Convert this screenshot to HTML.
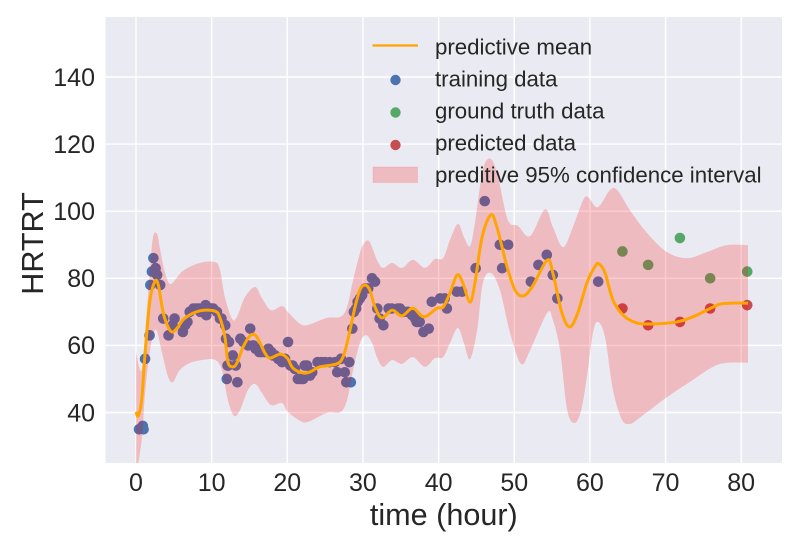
<!DOCTYPE html>
<html>
<head>
<meta charset="utf-8">
<style>
html,body{margin:0;padding:0;background:#fff;}
svg{display:block;}
text{font-family:"Liberation Sans",sans-serif;fill:#262626;}
</style>
</head>
<body>
<svg id="chart" xmlns="http://www.w3.org/2000/svg" width="800" height="550" viewBox="0 0 800 550">
  <defs><clipPath id="plot-clip"><rect x="105.5" y="17" width="676.5" height="446"/></clipPath></defs>
  <rect x="105.5" y="17" width="676.5" height="446" fill="#EAEAF2"/>
  <g id="grid"></g>
  <g id="dots" clip-path="url(#plot-clip)"></g>
  <g id="series" clip-path="url(#plot-clip)"></g>
  <g id="xticks"></g>
  <g id="yticks"></g>
  <text x="443.8" y="525" font-size="30.6" text-anchor="middle">time (hour)</text>
  <text transform="translate(43,243.5) rotate(-90)" font-size="30.6" text-anchor="middle">HRTRT</text>
  <g>
    <line x1="372.5" y1="45.5" x2="418" y2="45.5" stroke="#FFA500" stroke-width="2.3"/>
    <text x="435" y="54.5" font-size="22.25">predictive mean</text>
    <circle cx="395.5" cy="80" r="5.2" fill="#4C72B0"/>
    <text x="435" y="86.5" font-size="22.25">training data</text>
    <circle cx="395.5" cy="112.5" r="5.2" fill="#55A868"/>
    <text x="435" y="118.5" font-size="22.25">ground truth data</text>
    <circle cx="395.5" cy="145" r="5.2" fill="#C44E52"/>
    <text x="435" y="150.5" font-size="22.25">predicted data</text>
    <rect x="373" y="167" width="44.5" height="15.5" fill="rgba(255,0,0,0.2)" stroke="rgba(255,0,0,0.1)" stroke-width="1"/>
    <text x="435" y="182.5" font-size="22.25">preditive 95% confidence interval</text>
  </g>
</svg>
<script>
const xTickValues = [0,10,20,30,40,50,60,70,80];
const yTickValues = [40,60,80,100,120,140];

const trainTime = [0.4,0.9,1.0,1.2,1.8,1.9,2.1,2.3,2.6,2.8,3.2,3.6,4.3,4.85,5.1,6.2,6.5,6.8,7.1,7.6,8,8.3,8.5,9.2,9.3,9.7,10,10.2,10.7,11.1,11.3,11.8,11.9,12.0,12.1,12.2,12.3,12.8,13.2,13.4,13.8,14.2,14.8,15.1,15.5,15.8,16,16.3,16.6,17,17.5,17.9,18.1,18.4,18.8,19.3,19.7,20.1,20.4,20.7,21,21.4,21.8,22.1,22.3,22.6,23,23.3,24,24.5,25,25.6,26.3,26.6,27.1,27.6,27.8,28.2,28.4,28.6,28.8,29.1,29.3,29.6,29.9,30.3,30.7,31.2,31.6,31.9,32.2,32.7,33.4,33.8,34.6,34.9,35.3,35.9,36.5,36.9,37.1,37.5,38,38.7,39.1,40.2,40.8,41.1,42.4,43.1,44.9,46.1,48.1,48.4,49.2,52.2,53.2,54.3,55.1,55.7,61.1];
const trainValue = [35,36,35,56,63,78,82,86,83,81,78,68,63,66,68,64,66,67,70,71,71,71,70,72,69,71,71,71,70,68,68,66,62,50,54,54,61,57,54,49,62,61,60,65,60,59,59,58,58,58,59,58,57,57,56,55,56,61,54,54,53,50,50,50,54,54,51,52,55,55,55,55,55,52,56,52,49,55,49,65,70,71,73,74,75,77,77,80,79,71,68,66,71,71,71,71,70,70,69,68,67,67,64,65,73,74,74,71,76,76,83,103,90,83,90,79,84,87,81,74,79];

const truthTime = [64.3,67.7,71.9,75.9,80.8];
const truthValue = [88,84,92,80,82];

const predictedTime = [64.3,67.7,71.9,75.9,80.8];
const predictedValue = [71,66,67,71,72];

const meanTime = [0,0.3,0.75,1.2,1.85,2.5,2.95,3.6,4.3,4.85,5.55,6.5,8.45,10.45,11.1,11.75,12.15,12.8,13.35,14.15,15.05,15.75,16.4,17.05,17.7,19.05,20,20.75,22.05,23,24.3,26.55,27.35,28,28.95,29.6,30.25,30.9,31.6,32.5,33.85,35.15,36.6,38.05,39.8,40.6,41.5,42.45,43.2,44.15,44.8,45.75,46.9,47.7,49.05,50.1,51.15,52.35,54.35,55.1,56.3,57.35,58.4,59.6,60.7,61.2,62,63.05,64.4,66.2,68.35,71.5,73.6,75.45,77.2,78.9,80.9];
const meanValue = [40.2,39,43.7,57.7,73.5,79,78,69.7,65.2,64,65.5,68.2,70.3,70.2,68.2,62.5,55,53.6,54.8,59.5,62.8,63.1,60.7,57.7,56.2,57.4,56.2,53.2,51.8,52.1,53.6,54.5,56.5,61.6,71.4,76.5,78,76.5,71.4,68.2,70.5,68.8,71.1,68.5,71.1,71.4,75.6,81,78.6,72.9,78.6,92.3,98.9,95.3,83.4,76.5,74.7,77.4,85.4,81.6,69.7,65.5,69.7,78.6,83.6,84.3,81.6,73.5,69,66.7,66.4,67,68.5,70.5,72.3,72.6,72.6];

const upperTime = [0,0.75,1.4,1.85,2.25,2.8,3.2,3.85,4.6,6.2,8.45,10.45,11.1,11.75,12.7,13.35,14.4,15.75,16.65,17.85,19.3,20.1,21.7,22.75,25.25,27,27.9,28.7,29.6,30,30.8,31.85,32.65,33.85,35.15,36.6,38.2,39.5,40.6,41.5,42.55,43.35,44.15,44.8,45.85,46.9,47.85,49.15,50.5,52.1,54.05,55.1,56.45,57.75,59.1,59.75,61.05,62.65,63.6,65.3,67.55,70.2,72.85,75.45,78.1,80.9];
const upperValue = [58,52.7,69.7,82.5,92.3,93.2,88.4,81.6,78.3,82.2,84.6,84.8,82.5,74.4,67.9,68.5,74.4,77.4,74.1,70.5,71.7,69.9,66.4,66.1,68.2,68.5,71.4,79.5,87.5,89.9,91.1,85.5,83.1,84.6,83.1,85.5,83.1,85.7,86,91.4,96.2,92.3,89.6,96.5,112.3,115.6,110.2,97.4,95.6,92.6,100.6,95.3,89.3,95.3,103.3,104.2,101.2,106.3,106.3,100.3,93.5,87.8,86,87.8,89.9,89.9];

const lowerTime = [0,0.25,0.8,1.2,1.85,2.4,2.8,3.45,4.25,4.9,5.8,7.15,8.85,10.45,11.35,12.15,12.95,13.75,14.8,15.75,16.65,17.85,19.3,20.1,21.7,22.75,25.25,27,27.9,28.7,29.6,30.4,31.2,31.85,32.65,33.85,35.15,36.6,38.2,39.5,40.6,41.5,42.55,43.35,44.15,45.1,45.85,46.9,48.1,49.45,50.9,52.1,54.35,55.1,56.05,57,58,58.85,59.6,60.4,61.05,62,63.05,64.25,65.3,66.2,67.55,70.2,73.2,76.25,78.1,80.9];
const lowerValue = [22.9,24.4,32.7,45.8,58.6,64,64,57.7,50.6,49.1,52.7,54.8,55.7,55.7,52.7,43.7,39,40.7,46.7,48.5,45.8,42.2,42.8,40.1,37.5,37.2,39.9,40.1,43.7,52.7,60.7,63.1,60.7,56.5,53.6,55.6,54.5,56.5,53.6,56.2,56.5,60.7,65.2,60.7,55.9,64.6,78.6,81.6,76.5,63.7,54.5,58.6,69.7,67.6,58.6,40.7,36.9,40.7,50.6,63.7,67,62.5,46.7,37.8,36.6,37.8,40.1,44.6,49.1,53.6,54.8,54.8];

const SVG_NS = 'http://www.w3.org/2000/svg';
function xScale(t){ return 136 + t * 7.565; }
function yScale(v){ return 412.5 - (v - 40) * 3.355; }

function smoothSegments(pts){
  let d = '';
  for (let i = 0; i < pts.length - 1; i++){
    const p0 = pts[Math.max(i-1,0)], p1 = pts[i], p2 = pts[i+1], p3 = pts[Math.min(i+2,pts.length-1)];
    const c1x = p1[0] + (p2[0]-p0[0])/6, c1y = p1[1] + (p2[1]-p0[1])/6;
    const c2x = p2[0] - (p3[0]-p1[0])/6, c2y = p2[1] - (p3[1]-p1[1])/6;
    d += 'C' + c1x.toFixed(2) + ' ' + c1y.toFixed(2) + ' ' + c2x.toFixed(2) + ' ' + c2y.toFixed(2) + ' ' + p2[0].toFixed(2) + ' ' + p2[1].toFixed(2);
  }
  return d;
}
function toPoints(ts, vs){ return ts.map(function(t,i){ return [xScale(t), yScale(vs[i])]; }); }

const gridG = document.getElementById('grid');
const xTickG = document.getElementById('xticks');
const yTickG = document.getElementById('yticks');
xTickValues.forEach(function(t){
  const l = document.createElementNS(SVG_NS,'line');
  
  
  l.setAttribute('x1', xScale(t)); l.setAttribute('x2', xScale(t));
  l.setAttribute('y1', 17); l.setAttribute('y2', 463);
  l.setAttribute('stroke', '#fff'); l.setAttribute('stroke-width', 1.4);
  gridG.appendChild(l);
  const s = document.createElementNS(SVG_NS,'text');
  
  
  s.setAttribute('x', xScale(t)); s.setAttribute('y', 491);
  s.setAttribute('font-size', 25); s.setAttribute('text-anchor', 'middle');
  s.textContent = t;
  xTickG.appendChild(s);
});
yTickValues.forEach(function(v){
  const l = document.createElementNS(SVG_NS,'line');
  
  
  l.setAttribute('x1', 105.5); l.setAttribute('x2', 782);
  l.setAttribute('y1', yScale(v)); l.setAttribute('y2', yScale(v));
  l.setAttribute('stroke', '#fff'); l.setAttribute('stroke-width', 1.4);
  gridG.appendChild(l);
  const s = document.createElementNS(SVG_NS,'text');
  
  
  s.setAttribute('x', 95); s.setAttribute('y', yScale(v) + 8.8);
  s.setAttribute('font-size', 25); s.setAttribute('text-anchor', 'end');
  s.textContent = v;
  yTickG.appendChild(s);
});

const dotsG = document.getElementById('dots');
trainTime.forEach(function(t,i){
  const c = document.createElementNS(SVG_NS,'circle');
  
  
  c.setAttribute('cx', xScale(t)); c.setAttribute('cy', yScale(trainValue[i]));
  c.setAttribute('r', 5.3); c.setAttribute('fill', '#4C72B0');
  dotsG.appendChild(c);
});
truthTime.forEach(function(t,i){
  const c = document.createElementNS(SVG_NS,'circle');
  
  
  c.setAttribute('cx', xScale(t)); c.setAttribute('cy', yScale(truthValue[i]));
  c.setAttribute('r', 5.3); c.setAttribute('fill', '#55A868');
  dotsG.appendChild(c);
});
predictedTime.forEach(function(t,i){
  const c = document.createElementNS(SVG_NS,'circle');
  
  
  c.setAttribute('cx', xScale(t)); c.setAttribute('cy', yScale(predictedValue[i]));
  c.setAttribute('r', 5.3); c.setAttribute('fill', '#C44E52');
  dotsG.appendChild(c);
});

const seriesG = document.getElementById('series');
const up = toPoints(upperTime, upperValue);
const lo = toPoints(lowerTime, lowerValue).reverse();
const band = document.createElementNS(SVG_NS,'path');


band.setAttribute('d', 'M' + up[0][0] + ' ' + up[0][1] + smoothSegments(up) + 'L' + lo[0][0] + ' ' + lo[0][1] + smoothSegments(lo) + 'Z');
band.setAttribute('fill', 'rgba(255,0,0,0.2)');
seriesG.appendChild(band);

const mp = toPoints(meanTime, meanValue);
const mean = document.createElementNS(SVG_NS,'path');


mean.setAttribute('d', 'M' + mp[0][0] + ' ' + mp[0][1] + smoothSegments(mp));
mean.setAttribute('fill', 'none');
mean.setAttribute('stroke', '#FFA500');
mean.setAttribute('stroke-width', 3);
seriesG.appendChild(mean);
</script>
</body>
</html>
